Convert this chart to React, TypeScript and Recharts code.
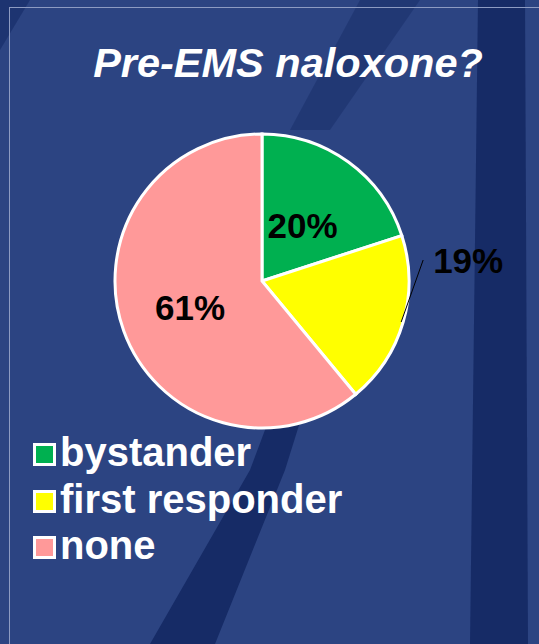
import React from 'react';
import { PieChart, Pie, Cell } from 'recharts';

const title = 'Pre-EMS naloxone?';
const categories = ['bystander', 'first responder', 'none'];
const values = [20, 19, 61];
const colors = ['#00B050', '#FFFF00', '#FF9999'];

const data = categories.map((name, i) => ({ name, value: values[i] }));
const RADIAN = Math.PI / 180;
const FONT = '"Liberation Sans", Arial, Helvetica, sans-serif';

const renderLabel = (props: any) => {
  const { cx, cy, midAngle, outerRadius, index, value } = props;
  const txt = `${value}%`;
  const cos = Math.cos(-midAngle * RADIAN);
  const sin = Math.sin(-midAngle * RADIAN);
  if (index === 1) {
    const sx = cx + outerRadius * cos;
    const sy = cy + outerRadius * sin;
    const ex = sx + 20;
    const ey = sy - 62;
    return (
      <g>
        <line x1={sx - 2} y1={sy} x2={ex} y2={ey} stroke="#000" strokeWidth={1} />
        <text x={ex + 45} y={ey + 13} textAnchor="middle" fill="#000" fontFamily={FONT} fontWeight="bold" fontSize={35}>
          {txt}
        </text>
      </g>
    );
  }
  const r = index === 0 ? outerRadius * 0.47 : outerRadius * 0.52;
  const x = cx + r * cos;
  const y = cy + r * sin;
  return (
    <text x={x} y={y + 13} textAnchor="middle" fill="#000" fontFamily={FONT} fontWeight="bold" fontSize={35}>
      {txt}
    </text>
  );
};

const LegendBlock = () => (
  <div style={{ position: 'absolute', left: 33, top: 429, fontFamily: FONT }}>
    {data.map((d, i) => (
      <div key={d.name} style={{ display: 'flex', alignItems: 'center', height: 46.5 }}>
        <div
          style={{
            width: 17,
            height: 17,
            border: '3px solid #ffffff',
            background: colors[i],
            marginRight: 4,
            marginTop: 5,
            flex: 'none',
          }}
        />
        <span style={{ color: '#ffffff', fontWeight: 'bold', fontSize: 40, lineHeight: '46px', whiteSpace: 'nowrap' }}>
          {d.name}
        </span>
      </div>
    ))}
  </div>
);

export default function App() {
  return (
    <div
      style={{
        position: 'absolute',
        left: 0,
        top: 0,
        width: 539,
        height: 644,
        overflow: 'hidden',
        background: '#2c4482',
      }}
    >
      <svg width={539} height={644} style={{ position: 'absolute', left: 0, top: 0 }}>
        <polygon points="150,644 215,644 285,470 310,390 280,390 250,470" fill="#0f235c" opacity={0.75} />
        <polygon points="478,0 525,0 528,644 470,644" fill="#0f235c" opacity={0.75} />
        <polygon points="360,0 420,0 330,130 290,130" fill="#0f235c" opacity={0.35} />
        <polygon points="0,0 30,0 0,50" fill="#142a66" opacity={0.6} />
        <line x1={9} y1={7.5} x2={539} y2={7.5} stroke="#8d9bc2" strokeWidth={1} />
        <line x1={9.5} y1={7} x2={9.5} y2={644} stroke="#8d9bc2" strokeWidth={1} />
        <text
          x={288}
          y={77}
          textAnchor="middle"
          fill="#ffffff"
          fontFamily={FONT}
          fontWeight="bold"
          fontStyle="italic"
          fontSize={41.5}
        >
          {title}
        </text>
      </svg>
      <div style={{ position: 'absolute', left: 0, top: 0 }}>
        <PieChart width={539} height={644} margin={{ top: 0, right: 0, bottom: 0, left: 0 }}>
          <Pie
            data={data}
            dataKey="value"
            nameKey="name"
            cx={262}
            cy={281}
            outerRadius={147}
            startAngle={90}
            endAngle={-270}
            stroke="#ffffff"
            strokeWidth={3}
            label={renderLabel}
            labelLine={false}
            isAnimationActive={false}
          >
            {data.map((d, i) => (
              <Cell key={d.name} fill={colors[i]} />
            ))}
          </Pie>
        </PieChart>
      </div>
      <LegendBlock />
    </div>
  );
}
